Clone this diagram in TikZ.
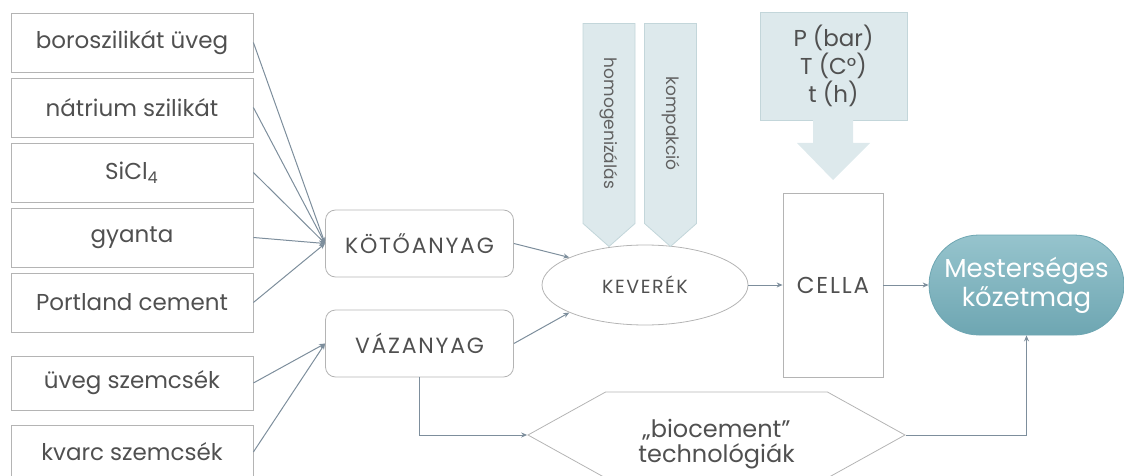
\documentclass[tikz,border=0pt]{standalone}
\usepackage{fontspec}
\setmainfont{Poppins}
\newfontfamily\capsfont[LetterSpace=8]{Poppins}
\usetikzlibrary{shapes.geometric,shapes.misc,shapes.symbols,arrows.meta}
\definecolor{linecol}{HTML}{7D8E9C}
\definecolor{boxcol}{HTML}{B4B4B4}
\definecolor{txtcol}{HTML}{505050}
\definecolor{pale}{HTML}{DDE9EC}
\definecolor{paleline}{HTML}{C3D6DA}
\definecolor{tealtop}{HTML}{96C4CD}
\definecolor{tealbot}{HTML}{6EA6B2}
\begin{document}
\begin{tikzpicture}[x=0.5pt, y=-0.5pt, node distance=32.5pt,
  src/.style = {draw=boxcol, minimum width=121pt, minimum height=29.5pt, text=txtcol, font=\fontsize{11.5}{13}\selectfont},
  mid/.style = {draw=boxcol, rounded corners=5pt, minimum width=94pt, minimum height=33.5pt, text=txtcol, font=\capsfont\fontsize{11}{13}\selectfont},
  chev/.style = {signal, signal to=east, signal pointer angle=97, rotate=-90, fill=pale, draw=paleline, minimum width=111.5pt, minimum height=26pt, text=txtcol!90, font=\fontsize{8.5}{10}\selectfont},
  link/.style = {draw=linecol, line width=0.5pt},
  arr/.style = {link, -{Stealth[length=3pt,width=2.5pt]}}]
	\useasboundingbox (0,0) rectangle (1124,476);
	% alapanyagok
	\node[src] (1) at (132,42.5) {boroszilikát üveg};
	\node[src] (2) [below of=1] {nátrium szilikát};
	\node[src] (3) [below of=2] {SiCl\textsubscript{4}};
	\node[src] (4) [below of=3] {gyanta};
	\node[src] (5) [below of=4] {Portland cement};
	\node[src, minimum height=27pt] (6) at (132,383) {üveg szemcsék};
	\node[src, minimum height=27pt] (7) at (132,452) {kvarc szemcsék};
	\node[mid] (8) at (419.5,243.5) {KÖTŐANYAG};
	\node[mid] (9) at (419.5,343.5) {VÁZANYAG};
	\node[ellipse, draw=boxcol, minimum width=103pt, minimum height=40pt, text=txtcol, font=\capsfont\fontsize{9.5}{11}\selectfont] (10) at (645,285) {KEVERÉK};
	\node[draw=boxcol, minimum width=50pt, minimum height=92pt, text=txtcol, font=\capsfont\fontsize{11.5}{13}\selectfont] (11) at (833,285) {CELLA};
	\node[rounded rectangle, top color=tealtop, bottom color=tealbot, draw=tealbot, minimum width=96.5pt, minimum height=50pt, text=white, align=center, font=\fontsize{13}{12.5}\selectfont] (12) at (1026.5,285) {Mesterséges\\kőzetmag};
	\node[signal, signal to=east and west, signal pointer angle=58, draw=boxcol, minimum width=188.5pt, minimum height=43pt, text=txtcol, align=center, font=\fontsize{12}{12.5}\selectfont] (13) at (716.5,435) {\rule{0pt}{18pt}„biocement”\\technológiák};
	% folyamat
	\node[chev] (14) at (609,123.5) {homogenizálás};
	\node[chev] (15) at (670.5,123.5) {kompakció};
	\node[fill=pale, draw=paleline, minimum width=73.5pt, minimum height=54pt, align=center, text=txtcol, font=\fontsize{11.5}{12.5}\selectfont] (16) at (833.5,66) {P (bar)\\T (C°)\\t (h)};
	\fill[pale] (813,120) -- (813,143) -- (797,143) -- (833,180) -- (870,143) -- (853,143) -- (853,120) -- cycle;
	\foreach \i in {1,...,5}
		\draw[arr] (\i.east) -- (8.west);
	\draw[arr] (6.east) -- (9.west);
	\draw[arr] (7.east) -- (9.west);
	\draw[arr] (8.east) -- (10.160);
	\draw[arr] (9.east) -- (10.200);
	\draw[arr] (10.east) -- (11.west);
	\draw[arr] (11.east) -- (12.west);
	\draw[arr] (9.south) |- (13.west);
	\draw[arr] (13.east) -| (12.south);
\end{tikzpicture}
\end{document}
